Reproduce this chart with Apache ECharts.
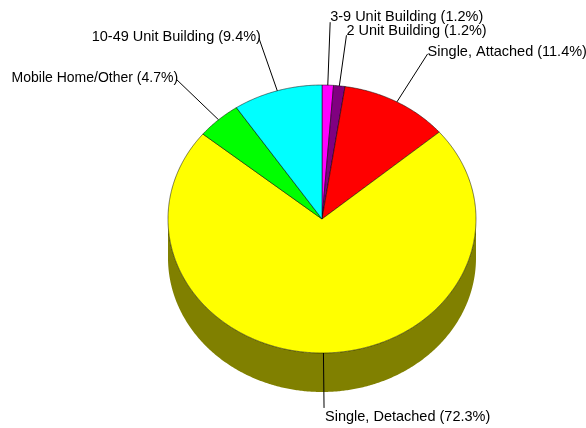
<!DOCTYPE html>
<html>
<head>
	<meta charset="utf-8">
	<title>Housing units by type</title>
	<script src="https://cdn.jsdelivr.net/npm/echarts@6/dist/echarts.min.js"></script>
	<style>
		html, body { margin: 0; padding: 0; background: #fff; }
		#main { width: 586px; height: 428px; }
	</style>
</head>
<body>
<div id="main"></div>
<script type="text/javascript">
// values, clockwise from 12 o'clock
var categories = ['3-9 Unit Building', '2 Unit Building', 'Single, Attached', 'Single, Detached', 'Mobile Home/Other', '10-49 Unit Building'];
var shares = [1.2, 1.2, 11.4, 72.3, 4.7, 9.4];
var colors = ['#ff00ff', '#800080', '#ff0000', '#ffff00', '#00ff00', '#00ffff'];
var wallColors = ['#800080', '#400040', '#800000', '#808000', '#008000', '#008080'];

// pie geometry
var cx = 322, cy = 219, rx = 154, ry = 134, depth = 39;
var labelReach = 1.41;
var lineNudgeY = [-8, 4, 0, 0, 0, 0];    // the two narrow slices push their labels apart
var textNudgeX = [0, 0, 0, 1, 2, 2];
var textNudgeY = [-5, -4, -2, 9, -1, -1];
var textSizes = [14.5, 14.5, 14.5, 14.5, 14, 14.5];

var total = shares.reduce(function (a, b) { return a + b; }, 0);
var slices = [];
var run = 0;
for (var i = 0; i < shares.length; i++) {
	slices.push([i, run / total * 360, (run + shares[i]) / total * 360]);
	run += shares[i];
}

function rimPoint(deg, dy) {
	var a = deg * Math.PI / 180;
	return [cx + rx * Math.sin(a), cy - ry * Math.cos(a) + (dy || 0)];
}

function arcPoints(from, to, dy) {
	var pts = [];
	var n = Math.max(2, Math.ceil((to - from) * 2));
	for (var k = 0; k <= n; k++) {
		pts.push(rimPoint(from + (to - from) * k / n, dy));
	}
	return pts;
}

// side wall, only the part of the rim that faces the viewer (90 to 270 deg)
function renderWall(params, api) {
	var from = Math.max(api.value(1), 90);
	var to = Math.min(api.value(2), 270);
	if (to <= from) return { type: 'group', children: [] };
	var pts = arcPoints(from, to, 0).concat(arcPoints(from, to, depth).reverse());
	return {
		type: 'polygon',
		shape: { points: pts },
		style: { fill: wallColors[api.value(0)], stroke: null }
	};
}

function renderTop(params, api) {
	var pts = [[cx, cy]].concat(arcPoints(api.value(1), api.value(2), 0));
	return {
		type: 'polygon',
		shape: { points: pts },
		style: { fill: colors[api.value(0)], stroke: '#000', lineWidth: 0.5, opacity: 1 }
	};
}

function renderLabel(params, api) {
	var idx = api.value(0);
	var mid = (api.value(1) + api.value(2)) / 2;
	var a = mid * Math.PI / 180;
	var inner = rimPoint(mid);
	var outer = [
		cx + rx * labelReach * Math.sin(a),
		cy - ry * labelReach * Math.cos(a) + lineNudgeY[idx]
	];
	var leftSide = mid > 180;
	return {
		type: 'group',
		children: [{
			type: 'line',
			shape: { x1: inner[0], y1: inner[1], x2: outer[0], y2: outer[1] },
			style: { stroke: '#000', lineWidth: 1 }
		}, {
			type: 'text',
			x: outer[0] + textNudgeX[idx],
			y: outer[1] + textNudgeY[idx],
			style: {
				text: categories[idx] + ' (' + shares[idx].toFixed(1) + '%)',
				font: textSizes[idx] + 'px "Liberation Sans", Arial, sans-serif',
				fill: '#000',
				align: leftSide ? 'right' : 'left',
				verticalAlign: 'middle'
			}
		}]
	};
}

var myChart = echarts.init(document.getElementById('main'), null, { renderer: 'canvas' });
var option = {
	animation: false,
	backgroundColor: '#fff',
	series: [
		{ type: 'custom', coordinateSystem: 'none', renderItem: renderWall, data: slices, z: 1, silent: true },
		{ type: 'custom', coordinateSystem: 'none', renderItem: renderTop, data: slices, z: 2, silent: true },
		{ type: 'custom', coordinateSystem: 'none', renderItem: renderLabel, data: slices, z: 3, silent: true }
	]
};
myChart.setOption(option);
</script>
</body>
</html>
